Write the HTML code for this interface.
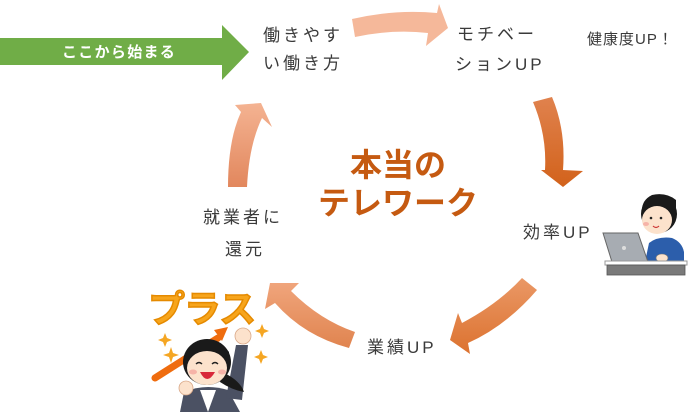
<!DOCTYPE html>
<html>
<head>
<meta charset="utf-8">
<style>
html,body{margin:0;padding:0;background:#fff;}
#c{position:relative;width:700px;height:412px;overflow:hidden;background:#fff;}
svg{position:absolute;left:0;top:0;}
.t{position:absolute;white-space:nowrap;font-family:"Liberation Sans","Noto Sans CJK JP",sans-serif;color:#3a3a3a;font-size:17px;line-height:17px;letter-spacing:3px;}
.s{font-size:15px;line-height:15px;letter-spacing:1px;}
.b{font-family:"Liberation Sans","Noto Sans CJK JP",sans-serif;font-weight:bold;color:#C55A11;font-size:32px;line-height:32px;letter-spacing:0px;position:absolute;white-space:nowrap;}
.g{position:absolute;white-space:nowrap;font-family:"Liberation Sans","Noto Sans CJK JP",sans-serif;font-weight:bold;color:#fff;font-size:15px;line-height:15px;letter-spacing:1.3px;}
</style>
</head>
<body>
<div id="c">
<svg width="700" height="412" viewBox="0 0 700 412">
  <defs>
    <linearGradient id="gl" x1="0" y1="0" x2="0" y2="1">
      <stop offset="0" stop-color="#F4B392"/>
      <stop offset="1" stop-color="#E2875D"/>
    </linearGradient>
    <linearGradient id="gr" x1="0" y1="0" x2="0" y2="1">
      <stop offset="0" stop-color="#E0824E"/>
      <stop offset="1" stop-color="#D2621B"/>
    </linearGradient>
    <linearGradient id="gbr" x1="0" y1="0" x2="0" y2="1">
      <stop offset="0" stop-color="#EA9866"/>
      <stop offset="1" stop-color="#DC722F"/>
    </linearGradient>
    <linearGradient id="gbl" x1="0" y1="0" x2="0" y2="1">
      <stop offset="0" stop-color="#F0A57C"/>
      <stop offset="1" stop-color="#E0844F"/>
    </linearGradient>
  </defs>

  <!-- green start arrow -->
  <polygon points="0,38 222,38 222,25 249,52 222,80 222,65 0,65" fill="#70AD47"/>

  <!-- top arrow -->
  <path d="M352,19 Q395,9 437,13 L439,4 L448,28 L426,46 L428,33 Q392,29 355,37 Z" fill="#F5B89A"/>

  <!-- right arrow (down) -->
  <path d="M533,102 L552,97 Q566,130 563,170 L583,171 L563,187 L541,170 L545,170 Q547,135 533,102 Z" fill="url(#gr)"/>

  <!-- bottom-right arrow -->
  <path d="M522,278 L537,290 Q506,326 468,343 L470,354 L450,340 L458,313 L462,323 Q498,304 522,278 Z" fill="url(#gbr)"/>

  <!-- bottom-left arrow -->
  <path d="M355,332 L349,348 Q304,336 275,303 L265,309 L270,283 L299,283 L291,291 Q320,320 355,332 Z" fill="url(#gbl)"/>

  <!-- left arrow (up) -->
  <path d="M228,187 Q228,140 241,112 L235,105 L261,103 L272,127 L262,118 Q249,145 247,187 Z" fill="url(#gl)"/>

  <!-- man at desk -->
  <path d="M645,262 L649,243 Q658,236 672,238 Q682,242 684,252 L684,262 Z" fill="#2C5EAB"/>
  <ellipse cx="659" cy="214" rx="18" ry="19" fill="#1a1a1a"/>
  <ellipse cx="657" cy="220" rx="15" ry="14" fill="#FCE2CC"/>
  <path d="M642,210 Q650,200 664,205 Q672,208 676,214 L676,200 Q666,192 652,195 Q642,200 642,210 Z" fill="#1a1a1a"/>
  <ellipse cx="646" cy="224" rx="3" ry="2" fill="#F6B3A8"/>
  <circle cx="651" cy="218" r="1.3" fill="#222"/>
  <circle cx="661" cy="218" r="1.3" fill="#222"/>
  <path d="M653,226 Q656,229 659,226" stroke="#c33" stroke-width="1.2" fill="none"/>
  <polygon points="603,233 638,233 648,262 612,262" fill="#A7ACB2" stroke="#666" stroke-width="1"/>
  <circle cx="624" cy="248" r="2" fill="#ddd"/>
  <ellipse cx="662" cy="258" rx="6" ry="4" fill="#FCE2CC" stroke="#777" stroke-width="0.6"/>
  <rect x="605" y="261" width="82" height="4" fill="#fff" stroke="#999" stroke-width="1"/>
  <rect x="607" y="265" width="78" height="10" fill="#7A7A7A" stroke="#555" stroke-width="0.8"/>

  <!-- woman plus -->
  <text x="148" y="322" font-family="Liberation Sans, Noto Sans CJK JP, sans-serif" font-weight="bold" font-size="37" fill="#F7A51C" stroke="#E58A00" stroke-width="1.5" letter-spacing="-1">プラス</text>
  <path d="M155,378 L218,338" stroke="#EF6C0E" stroke-width="7" stroke-linecap="round"/>
  <polygon points="214,330 228,327 222,341" fill="#EF6C0E"/>
  <!-- sparkles -->
  <path d="M165,333 l2,5 l5,2 l-5,2 l-2,5 l-2,-5 l-5,-2 l5,-2 Z" fill="#F5A623"/>
  <path d="M171,347 l2,6 l6,2 l-6,2 l-2,6 l-2,-6 l-6,-2 l6,-2 Z" fill="#F5A623"/>
  <path d="M262,324 l2,5 l5,2 l-5,2 l-2,5 l-2,-5 l-5,-2 l5,-2 Z" fill="#F5A623"/>
  <path d="M261,350 l2,5 l5,2 l-5,2 l-2,5 l-2,-5 l-5,-2 l5,-2 Z" fill="#F5A623"/>
  <!-- body -->
  <path d="M180,412 L184,392 Q205,383 228,390 L240,412 Z" fill="#4B5163"/>
  <path d="M200,390 L208,412 L216,390 Z" fill="#fff"/>
  <path d="M226,398 L236,345 L248,345 L242,400 Z" fill="#4B5163"/>
  <circle cx="243" cy="336" r="8" fill="#FCE2CC" stroke="#d9a888" stroke-width="0.8"/>
  <circle cx="186" cy="388" r="7" fill="#FCE2CC" stroke="#d9a888" stroke-width="0.8"/>
  <!-- head -->
  <path d="M222,372 Q240,380 244,392 Q232,390 220,382 Z" fill="#1a1a1a"/>
  <ellipse cx="207" cy="362" rx="24" ry="23" fill="#1a1a1a"/>
  <ellipse cx="207" cy="368" rx="20" ry="17" fill="#FCE2CC"/>
  <path d="M187,362 Q195,346 210,350 Q222,352 228,364 L229,352 Q218,338 200,341 Q186,348 187,362 Z" fill="#1a1a1a"/>
  <ellipse cx="193" cy="372" rx="4" ry="2.5" fill="#F6B3A8"/>
  <ellipse cx="222" cy="372" rx="4" ry="2.5" fill="#F6B3A8"/>
  <path d="M196,364 q3,-3 6,0" stroke="#222" stroke-width="1.4" fill="none"/>
  <path d="M212,364 q3,-3 6,0" stroke="#222" stroke-width="1.4" fill="none"/>
  <path d="M200,372 Q207,386 215,372 Z" fill="#D8283A"/>
</svg>

<div class="g" style="left:62px;top:45px;">ここから始まる</div>

<div class="t" style="left:263px;top:27px;">働きやす</div>
<div class="t" style="left:263px;top:55px;">い働き方</div>
<div class="t" style="left:457px;top:26px;">モチベー</div>
<div class="t" style="left:455px;top:56px;">ションUP</div>
<div class="t s" style="left:587px;top:32px;">健康度UP！</div>

<div class="b" style="left:350px;top:149px;">本当の</div>
<div class="b" style="left:318px;top:187px;">テレワーク</div>

<div class="t" style="left:203px;top:209px;">就業者に</div>
<div class="t" style="left:225px;top:241px;">還元</div>
<div class="t" style="left:523px;top:224px;">効率UP</div>
<div class="t" style="left:367px;top:339px;">業績UP</div>
</div>
</body>
</html>
